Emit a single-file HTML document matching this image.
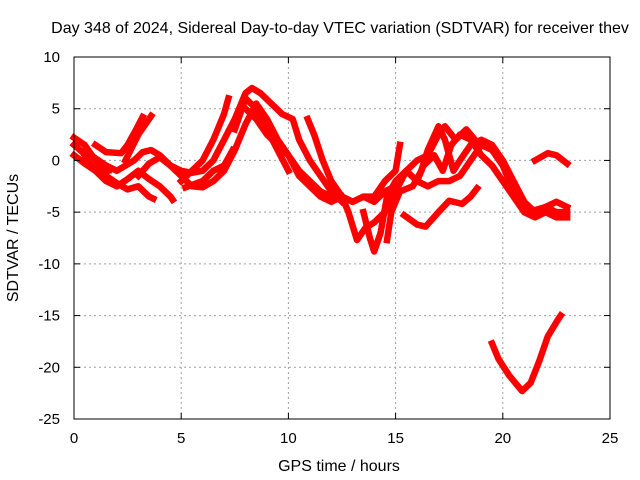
<!DOCTYPE html>
<html><head><meta charset="utf-8"><style>
body{margin:0;background:#fff}
svg{display:block;font-family:"Liberation Sans",sans-serif}
</style></head><body>
<svg id="chart" width="640" height="480">
<text x="340" y="33" font-size="16" text-anchor="middle">Day 348 of 2024, Sidereal Day-to-day VTEC variation (SDTVAR) for receiver thev</text>
<g id="grid"></g>
<g id="series"></g>
<rect x="74" y="57" width="536" height="362" fill="none" stroke="#000" stroke-width="1"/>
<g id="ticks"></g>
<text x="339" y="471" font-size="16" text-anchor="middle">GPS time / hours</text>
<text x="18" y="238" font-size="16" text-anchor="middle" transform="rotate(-90 18 238)">SDTVAR / TECUs</text>
</svg>
<script>
const xTicks=[0,5,10,15,20,25];
const yTicks=[10,5,0,-5,-10,-15,-20,-25];
const trace1=[[0,2.2],[0.5,1.5],[1,0],[1.5,-1.5],[2,-2.2],[2.5,-2.8],[3,-2.5],[3.5,-3.5],[3.7,-3.7]];
const trace2=[[0,0.5],[0.5,-0.3],[1,-1],[1.5,-2],[2,-2.5],[2.5,-1.8],[3,-1],[3.5,-1.8],[4,-2.5],[4.5,-3.5],[4.6,-3.8]];
const trace3=[[0,1.5],[0.4,0.8],[0.8,-0.5],[1.2,-1.2],[1.6,-1.0]];
const trace4=[[1,1.5],[1.5,0.8],[2.2,0.7],[2.5,1.5],[2.9,3.0],[3.2,4.2]];
const trace5=[[0.5,1],[1,0.2],[1.5,-0.5],[2,-1],[2.4,-0.5],[2.8,0],[3.2,0.8],[3.6,1],[4,0.5],[4.5,-0.5],[5,-1],[5.5,-1.2],[6,-1],[6.5,0],[7,2],[7.5,4],[8,6.5],[8.3,7],[8.7,6.5],[9.2,5.5],[9.7,4.5],[10.2,4],[10.5,2],[11,0],[11.5,-1.5],[12,-3],[12.5,-4]];
const trace6=[[2.4,0],[3,2.5],[3.6,4.3]];
const trace7=[[3,-1.5],[3.5,-0.3],[4,0.3],[4.5,-0.5],[5,-1.5],[5.5,-2.5],[6,-2.6],[6.5,-2],[7,-1],[7.5,1],[8,3.5],[8.5,5.5],[9,4],[9.5,2],[10,0.5],[10.5,-1],[11,-2],[11.5,-3],[12,-3.5]];
const trace8=[[5,-2],[5.5,-1],[6,0],[6.5,2],[7,4.5],[7.2,6]];
const trace9=[[5.2,-2.6],[6,-2],[6.5,-1],[7,-0.5],[7.4,1]];
const trace10=[[7.5,3],[8,6],[8.5,5],[9,3],[9.5,1],[10,-1]];
const trace11=[[8,5],[8.5,4],[9,2.5],[9.5,1.5],[10,0.5],[10.5,-1.5],[11,-2.5],[11.5,-3.5],[12,-4],[12.5,-3.5],[13,-4],[13.5,-3.5],[14,-4],[14.5,-3],[15,-2.5]];
const trace12=[[10.9,4],[11.2,2.5],[11.6,0],[12,-2],[12.5,-3.5],[13,-4],[13.5,-3.5],[14,-3.5],[14.5,-2],[15,-1],[15.2,1.5]];
const trace13=[[12.5,-3.5],[12.8,-5],[13.2,-7.7],[13.6,-6.5],[14,-6],[14.5,-5],[15,-3],[15.5,-1],[16,0],[16.5,0.5],[17,2.5],[17.3,3.3],[17.8,2],[18.3,3],[18.7,2]];
const trace14=[[13.5,-5],[13.8,-7.5],[14.0,-8.8],[14.3,-7],[14.6,-3.5],[15,-2],[15.5,-1],[16,-2],[16.5,-2.5],[17,-2],[17.5,-2],[18,-1.5],[18.5,0],[19,1.5],[19.5,1],[20,-0.5],[20.5,-3],[21,-4.5],[21.5,-4.8],[22,-4.5],[22.5,-5],[23,-5]];
const trace15=[[14.6,-7.7],[14.8,-5],[15.2,-3],[15.8,-2.5],[16.2,-1],[16.5,1],[17,3.3],[17.3,2],[17.7,-1],[18,0],[18.5,1.5],[19,2],[19.5,1.5],[20,0],[20.5,-2],[21,-4],[21.5,-5],[22,-4.5],[22.5,-4],[23,-4.5]];
const trace16=[[15.4,-5.3],[16,-6.2],[16.4,-6.4],[17,-5],[17.5,-3.9],[18.1,-4.2],[18.5,-3.5],[18.8,-2.7]];
const trace17=[[16,-2],[16.3,-0.5],[16.8,0.5],[17.2,-1],[17.6,1.5],[18,2.5],[18.5,2],[19,0.5],[19.5,-0.5],[20,-2],[20.5,-3.5],[21,-5],[21.5,-5.5],[22,-5],[22.5,-5.5],[23,-5.5]];
const trace18=[[21.5,0],[22.1,0.7],[22.5,0.5],[23,-0.3]];
const trace19=[[19.5,-17.7],[19.8,-19.2],[20.3,-20.8],[20.9,-22.3],[21.3,-21.5],[21.7,-19.4],[22.1,-17],[22.6,-15.3],[22.7,-15]];
const traces=[trace1,trace2,trace3,trace4,trace5,trace6,trace7,trace8,trace9,trace10,trace11,trace12,trace13,trace14,trace15,trace16,trace17,trace18,trace19];
const X0=74,X1=610,Y0=419,Y1=57;
function sx(v){return X0+(v-0)/(25-0)*(X1-X0);}
function sy(v){return Y0-(v+25)/35*(Y0-Y1);}
const NS="http://www.w3.org/2000/svg";
const grid=document.getElementById('grid'),ticks=document.getElementById('ticks'),series=document.getElementById('series');
function mk(t,a,p){const e=document.createElementNS(NS,t);for(const k in a)e.setAttribute(k,a[k]);p.appendChild(e);return e;}
xTicks.forEach(v=>{const x=sx(v);
 if(v>0&&v<25){const g=mk('line',{x1:x,x2:x,y1:Y0,y2:Y1,stroke:'#a0a0a0','stroke-dasharray':'2,3'},grid);
 
 }
 mk('line',{x1:x,x2:x,y1:Y0,y2:Y0-6,stroke:'#000'},ticks);
 mk('line',{x1:x,x2:x,y1:Y1,y2:Y1+6,stroke:'#000'},ticks);
 const t=mk('text',{x:x,y:443,'font-size':15,'text-anchor':'middle'},ticks);t.textContent=v;
 
 
});
yTicks.forEach(v=>{const y=sy(v);
 if(v<10&&v>-25){const g=mk('line',{x1:X0,x2:X1,y1:y,y2:y,stroke:'#a0a0a0','stroke-dasharray':'2,3'},grid);
 
 }
 mk('line',{x1:X0,x2:X0+6,y1:y,y2:y,stroke:'#000'},ticks);
 mk('line',{x1:X1,x2:X1-6,y1:y,y2:y,stroke:'#000'},ticks);
 const t=mk('text',{x:60,y:y+5,'font-size':15,'text-anchor':'end'},ticks);t.textContent=v;
 
 
});
traces.forEach((tr,i)=>{
 const p=mk('polyline',{points:tr.map(d=>sx(d[0])+','+sy(d[1])).join(' '),fill:'none',stroke:'#ff0000','stroke-width':6.5,'stroke-linejoin':'round','stroke-linecap':'square'},series);
 
 
});
</script>
</body></html>
